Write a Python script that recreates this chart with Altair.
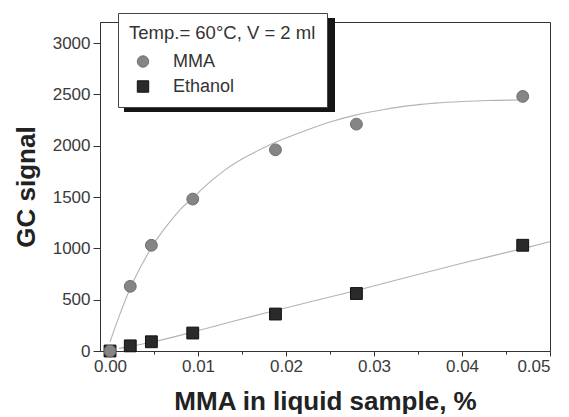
import altair as alt
import pandas as pd

# measured points
x_pts = [0.0, 0.0023, 0.0047, 0.0094, 0.0188, 0.0280, 0.0469]
mma_pts = [0, 630, 1030, 1480, 1960, 2210, 2480]
eth_pts = [0, 50, 90, 175, 360, 560, 1030]

# fitted curves
mma_fit_x = [0.0, 0.001, 0.002, 0.003, 0.004, 0.005, 0.006, 0.007, 0.008, 0.0094, 0.011, 0.013,
             0.015, 0.017, 0.019, 0.022, 0.025, 0.028, 0.031, 0.034, 0.037, 0.040, 0.043, 0.047]
mma_fit_y = [90, 330, 550, 740, 900, 1050, 1170, 1280, 1380, 1490, 1620, 1760,
             1870, 1960, 2040, 2140, 2230, 2300, 2350, 2390, 2415, 2430, 2440, 2445]
eth_fit_x = [0.001, 0.0023, 0.0047, 0.0094, 0.014, 0.0188, 0.028, 0.035, 0.040, 0.047, 0.050]
eth_fit_y = [25, 45, 85, 185, 290, 395, 590, 745, 855, 1000, 1065]

series = ["MMA", "Ethanol"]

pts = pd.DataFrame(
    [{"x": x, "y": y, "s": "Ethanol"} for x, y in zip(x_pts, eth_pts)]
    + [{"x": x, "y": y, "s": "MMA"} for x, y in zip(x_pts, mma_pts)]
)
fits = pd.DataFrame(
    [{"x": x, "y": y, "s": "MMA"} for x, y in zip(mma_fit_x, mma_fit_y)]
    + [{"x": x, "y": y, "s": "Ethanol"} for x, y in zip(eth_fit_x, eth_fit_y)]
)

FONT = "Liberation Sans"
W, H = 450, 329

xscale = alt.Scale(domain=[-0.00114, 0.05], nice=False, zero=False)
yscale = alt.Scale(domain=[0, 3205], nice=False)

xaxis = alt.Axis(
    title="MMA in liquid sample, %",
    values=[round(i * 0.005, 3) for i in range(11)],
    labelExpr="(round(datum.value*1000) % 10 === 0) ? format(datum.value, '.2f') : ''",
    tickSize={"expr": "(round(datum.value*1000) % 10 === 0) ? 5 : 3"},
    labelPadding=2,
    titlePadding=14,
    grid=False,
)
yaxis = alt.Axis(
    title="GC signal",
    values=list(range(0, 3001, 250)),
    labelExpr="(datum.value % 500 === 0) ? datum.value : ''",
    tickSize={"expr": "(datum.value % 500 === 0) ? 7 : 4"},
    labelPadding=3,
    titlePadding=13,
    grid=False,
)

lines = alt.Chart(fits).mark_line(color="#b3b3b3", strokeWidth=1.1, interpolate="monotone").encode(
    x=alt.X("x:Q", scale=xscale, axis=xaxis),
    y=alt.Y("y:Q", scale=yscale, axis=yaxis),
    detail="s:N",
)

points = alt.Chart(pts).mark_point(filled=True, opacity=1, size=140, strokeWidth=1).encode(
    x=alt.X("x:Q", scale=xscale),
    y=alt.Y("y:Q", scale=yscale),
    color=alt.Color(
        "s:N",
        scale=alt.Scale(domain=series, range=["#858585", "#2a2a2a"]),
        legend=alt.Legend(
            title="Temp.= 60°C, V = 2 ml",
            orient="none",
            legendX=18,
            legendY=-9,
            direction="vertical",
            fillColor="white",
            strokeColor="#444",
            padding=11,
            titleFontSize=18.5,
            titleFontWeight="normal",
            titleFont=FONT,
            titleColor="#333",
            titlePadding=11,
            titleLimit=400,
            labelFontSize=18,
            labelFont=FONT,
            labelColor="#333",
            labelOffset=21,
            labelLimit=300,
            symbolSize=130,
            symbolOffset=5,
            symbolStrokeWidth=1,
            clipHeight=16,
            rowPadding=7,
        ),
    ),
    shape=alt.Shape(
        "s:N",
        scale=alt.Scale(domain=series, range=["circle", "square"]),
    ),
    stroke=alt.Stroke("s:N", scale=alt.Scale(domain=series, range=["#6e6e6e", "#111111"]), legend=None),
)

# legend drop shadow
shadow = alt.Chart(pd.DataFrame({"a": [0]})).mark_rect(color="#151515").encode(
    x=alt.value(24), x2=alt.value(235), y=alt.value(-4), y2=alt.value(90)
)

chart = alt.layer(shadow, lines, points).properties(
    width=W, height=H,
    padding={"left": 5, "top": 4, "right": 5, "bottom": 0},
).configure_view(stroke="#333", strokeWidth=1).configure_axis(
    domainColor="#333",
    tickColor="#333",
    labelFont=FONT,
    labelFontSize=17,
    labelColor="#3a3a3a",
    titleFont=FONT,
    titleFontSize=26,
    titleFontWeight="bold",
    titleColor="#222",
)

chart.save("out.html", embed_options={"renderer": "svg", "actions": False})
